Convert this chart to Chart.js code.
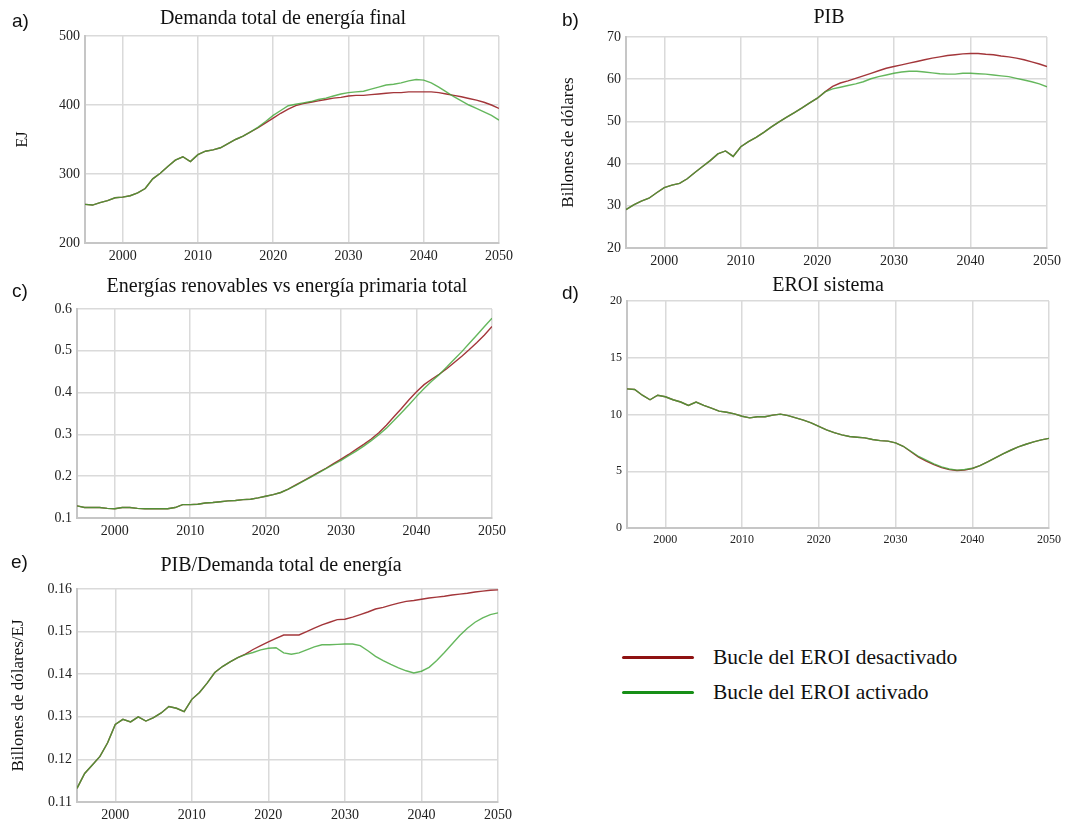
<!DOCTYPE html>
<html lang="es">
<head>
<meta charset="utf-8">
<title>Bucle del EROI</title>
<script src="https://cdn.jsdelivr.net/npm/chart.js@4.4.1/dist/chart.umd.min.js"></script>
<style>
  html, body { margin: 0; padding: 0; background: #fff; overflow: hidden; }
  body { width: 1073px; height: 823px; position: relative; }
  canvas { position: absolute; }
  .letra { position: absolute; font: 19px 'Liberation Sans', 'Noto Sans', sans-serif; color: #111; line-height: 19px; }
  .ley-linea { position: absolute; width: 72px; height: 3px; border-radius: 2px; }
  .ley-texto { position: absolute; font: 21.5px 'Liberation Serif', serif; color: #111; line-height: 24px; white-space: nowrap; }
</style>
</head>
<body>
<script>
const years = [
  1995, 1996, 1997, 1998, 1999, 2000, 2001, 2002, 2003, 2004,
  2005, 2006, 2007, 2008, 2009, 2010, 2011, 2012, 2013, 2014,
  2015, 2016, 2017, 2018, 2019, 2020, 2021, 2022, 2023, 2024,
  2025, 2026, 2027, 2028, 2029, 2030, 2031, 2032, 2033, 2034,
  2035, 2036, 2037, 2038, 2039, 2040, 2041, 2042, 2043, 2044,
  2045, 2046, 2047, 2048, 2049, 2050
];
const xTicks = [2000, 2010, 2020, 2030, 2040, 2050];

// a) Demanda total de energía final (EJ)
const demandaDesactivado = [
  256, 255, 258.5, 261.5, 265.5, 266.5, 268.5, 272.5, 279, 293,
  301, 311, 320, 325, 318, 328, 333, 335, 338, 344,
  350, 355, 361, 367, 374, 381, 388, 394, 399, 402,
  404, 406, 408, 410, 411, 413, 414, 414, 415, 416,
  417, 418, 418, 419, 419, 419, 419, 418, 416, 414,
  412, 409.5, 407, 404, 400, 395
];
const demandaActivado = [
  256, 255, 258.5, 261.5, 265.5, 266.5, 268.5, 272.5, 279, 293,
  301, 311, 320, 325, 318, 328, 333, 335, 338, 344,
  350, 355, 361, 368, 376, 385, 392, 399, 401, 403,
  405, 408, 410, 413, 416, 418, 419, 420, 423, 426,
  429, 430, 432, 435, 437, 436, 432, 426, 419, 412,
  406, 400, 395, 390, 385, 378
];
const demandaTicks = [200, 300, 400, 500];

// b) PIB (billones de dólares)
const pibDesactivado = [
  29.1, 30.2, 31.1, 31.8, 33.1, 34.3, 34.9, 35.3, 36.4, 37.9,
  39.3, 40.7, 42.3, 43.0, 41.7, 44.0, 45.2, 46.2, 47.4, 48.7,
  49.9, 51.0, 52.1, 53.2, 54.4, 55.5, 57.0, 58.3, 59.1, 59.6,
  60.2, 60.8, 61.4, 62.0, 62.6, 63.0, 63.4, 63.8, 64.2, 64.6,
  65.0, 65.3, 65.6, 65.8, 66.0, 66.1, 66.1, 65.9, 65.8, 65.5,
  65.3, 65.0, 64.6, 64.1, 63.6, 63.0
];
const pibActivado = [
  29.1, 30.2, 31.1, 31.8, 33.1, 34.3, 34.9, 35.3, 36.4, 37.9,
  39.3, 40.7, 42.3, 43.0, 41.7, 44.0, 45.2, 46.2, 47.4, 48.7,
  49.9, 51.0, 52.1, 53.2, 54.4, 55.5, 57.0, 57.7, 58.1, 58.5,
  58.9, 59.4, 60.1, 60.6, 61.0, 61.4, 61.7, 61.9, 61.9, 61.7,
  61.5, 61.3, 61.2, 61.2, 61.4, 61.4, 61.3, 61.2, 61.0, 60.8,
  60.6, 60.2, 59.8, 59.4, 58.9, 58.2
];
const pibTicks = [20, 30, 40, 50, 60, 70];

// c) Energías renovables vs energía primaria total
const renovDesactivado = [
  0.129, 0.125, 0.125, 0.125, 0.123, 0.122, 0.125, 0.125, 0.123, 0.122,
  0.122, 0.122, 0.122, 0.125, 0.132, 0.132, 0.133, 0.136, 0.137, 0.139,
  0.141, 0.142, 0.144, 0.145, 0.148, 0.152, 0.156, 0.161, 0.169, 0.179,
  0.189, 0.199, 0.209, 0.219, 0.230, 0.241, 0.252, 0.264, 0.276, 0.289,
  0.304, 0.322, 0.342, 0.362, 0.383, 0.402, 0.419, 0.432, 0.444, 0.457,
  0.472, 0.487, 0.503, 0.520, 0.538, 0.558
];
const renovActivado = [
  0.129, 0.125, 0.125, 0.125, 0.123, 0.122, 0.125, 0.125, 0.123, 0.122,
  0.122, 0.122, 0.122, 0.125, 0.132, 0.132, 0.133, 0.136, 0.137, 0.139,
  0.141, 0.142, 0.144, 0.145, 0.148, 0.152, 0.156, 0.161, 0.169, 0.178,
  0.188, 0.198, 0.208, 0.218, 0.228, 0.238, 0.249, 0.260, 0.272, 0.285,
  0.299, 0.315, 0.333, 0.352, 0.371, 0.391, 0.410, 0.427, 0.443, 0.461,
  0.480, 0.498, 0.518, 0.538, 0.558, 0.578
];
const renovTicks = [0.1, 0.2, 0.3, 0.4, 0.5, 0.6];

// d) EROI sistema
const eroiDesactivado = [
  12.26, 12.2, 11.7, 11.3, 11.7, 11.56, 11.3, 11.1, 10.8, 11.1,
  10.8, 10.56, 10.3, 10.2, 10.06, 9.85, 9.7, 9.8, 9.8, 9.95,
  10.03, 9.9, 9.7, 9.5, 9.26, 8.95, 8.65, 8.4, 8.2, 8.06,
  8.0, 7.94, 7.8, 7.7, 7.65, 7.5, 7.2, 6.72, 6.25, 5.9,
  5.58, 5.32, 5.14, 5.06, 5.1, 5.24, 5.5, 5.82, 6.18, 6.53,
  6.85, 7.15, 7.38, 7.59, 7.76, 7.9
];
const eroiActivado = [
  12.26, 12.2, 11.7, 11.3, 11.7, 11.56, 11.3, 11.1, 10.8, 11.1,
  10.8, 10.56, 10.3, 10.2, 10.06, 9.85, 9.7, 9.8, 9.8, 9.95,
  10.03, 9.9, 9.7, 9.5, 9.26, 8.95, 8.65, 8.4, 8.2, 8.06,
  8.0, 7.94, 7.8, 7.7, 7.65, 7.5, 7.2, 6.76, 6.3, 5.97,
  5.65, 5.38, 5.2, 5.1, 5.15, 5.26, 5.5, 5.82, 6.18, 6.53,
  6.85, 7.15, 7.38, 7.59, 7.76, 7.9
];
const eroiTicks = [0, 5, 10, 15, 20];

// e) PIB / Demanda total de energía
const intensidadDesactivado = [
  0.1132, 0.1167, 0.1187, 0.1207, 0.1239, 0.1282, 0.1294, 0.1288, 0.1300, 0.1290,
  0.1298, 0.1309, 0.1324, 0.1320, 0.1312, 0.1341, 0.1357, 0.1379, 0.1404, 0.1418,
  0.1429, 0.1439, 0.1447, 0.1458, 0.1467, 0.1476, 0.1484, 0.1492, 0.1492, 0.1492,
  0.1500, 0.1508, 0.1516, 0.1522, 0.1528, 0.1529, 0.1534, 0.1540, 0.1546, 0.1553,
  0.1557, 0.1562, 0.1567, 0.1571, 0.1573, 0.1576, 0.1579, 0.1581, 0.1583, 0.1586,
  0.1588, 0.1590, 0.1593, 0.1595, 0.1597, 0.1598
];
const intensidadActivado = [
  0.1132, 0.1167, 0.1187, 0.1207, 0.1239, 0.1282, 0.1294, 0.1288, 0.1300, 0.1290,
  0.1298, 0.1309, 0.1324, 0.1320, 0.1312, 0.1341, 0.1357, 0.1379, 0.1404, 0.1418,
  0.1429, 0.1439, 0.1446, 0.1451, 0.1457, 0.1461, 0.1462, 0.1450, 0.1447, 0.1450,
  0.1457, 0.1464, 0.1469, 0.1469, 0.1470, 0.1471, 0.1471, 0.1467, 0.1455, 0.1442,
  0.1432, 0.1423, 0.1415, 0.1408, 0.1403, 0.1407, 0.1416, 0.1432, 0.1451, 0.1471,
  0.1491, 0.1508, 0.1522, 0.1532, 0.1540, 0.1544
];
const intensidadTicks = [0.11, 0.12, 0.13, 0.14, 0.15, 0.16];

const serieNames = ['Bucle del EROI desactivado', 'Bucle del EROI activado'];
const lineColors = ['#a3363a', 'rgba(62, 165, 52, 0.8)'];
const legendColors = ['#8e1212', '#178f17'];

const SERIF = "'Liberation Serif', 'Times New Roman', serif";
const GRID = '#dadada';
const FRAME = '#c6c6c6';

const panels = [
  { letter: 'a)', letterPos: [12, 11], title: 'Demanda total de energía final', yTitle: 'EJ', yTitleSize: 16,
    off: demandaDesactivado, on: demandaActivado, yTicks: demandaTicks,
    box: [11, 4, 544, 263], yWidth: 74, spacer: 56, padBottom: 5.2, tickSize: 14 },
  { letter: 'b)', letterPos: [562, 10], title: 'PIB', yTitle: 'Billones de dólares', yTitleSize: 17,
    off: pibDesactivado, on: pibActivado, yTicks: pibTicks,
    box: [556, 3, 546, 269], yWidth: 70, spacer: 55, padBottom: 7.2, tickSize: 14 },
  { letter: 'c)', letterPos: [12, 281], title: 'Energías renovables vs energía primaria total', yTitle: '', yTitleSize: 16,
    off: renovDesactivado, on: renovActivado, yTicks: renovTicks,
    box: [40, 272, 494, 270], yWidth: 37, spacer: 42, padBottom: 10.2, tickSize: 14 },
  { letter: 'd)', letterPos: [562, 283], title: 'EROI sistema', yTitle: '', yTitleSize: 16,
    off: eroiDesactivado, on: eroiActivado, yTicks: eroiTicks,
    box: [589, 271, 478, 281], yWidth: 38, spacer: 18, padBottom: 3.2, tickSize: 12 },
  { letter: 'e)', letterPos: [11, 552], title: 'PIB/Demanda total de energía', yTitle: 'Billones de dólares/EJ', yTitleSize: 17,
    off: intensidadDesactivado, on: intensidadActivado, yTicks: intensidadTicks,
    box: [6, 551, 550, 275], yWidth: 71, spacer: 58, padBottom: 11.2, tickSize: 14 },
];

function toPoints(values) {
  return years.map((year, i) => ({ x: year, y: values[i] }));
}

function makePanel(p) {
  const canvas = document.createElement('canvas');
  const [left, top, width, height] = p.box;
  canvas.width = width;
  canvas.height = height;
  canvas.style.left = left + 'px';
  canvas.style.top = top + 'px';
  canvas.style.width = width + 'px';
  canvas.style.height = height + 'px';
  document.body.appendChild(canvas);

  const letter = document.createElement('div');
  letter.className = 'letra';
  letter.textContent = p.letter;
  letter.style.left = p.letterPos[0] + 'px';
  letter.style.top = p.letterPos[1] + 'px';
  document.body.appendChild(letter);

  const tickFont = { family: SERIF, size: p.tickSize };

  new Chart(canvas.getContext('2d'), {
    type: 'line',
    data: {
      datasets: [
        {
          label: serieNames[0],
          data: toPoints(p.off),
          borderColor: lineColors[0],
          borderWidth: 1.4,
          pointRadius: 0,
          tension: 0,
          order: 1,
        },
        {
          label: serieNames[1],
          data: toPoints(p.on),
          borderColor: lineColors[1],
          borderWidth: 1.4,
          pointRadius: 0,
          tension: 0,
          order: 0,
        },
      ],
    },
    options: {
      responsive: false,
      devicePixelRatio: 1,
      animation: false,
      events: [],
      layout: { padding: 0 },
      plugins: {
        legend: { display: false },
        tooltip: { enabled: false },
        title: {
          display: true,
          text: p.title,
          color: '#111',
          font: { family: SERIF, size: 20, weight: 'normal', lineHeight: 1.2 },
          padding: { top: 2.8, bottom: p.padBottom },
        },
      },
      scales: {
        x: {
          type: 'linear',
          min: years[0],
          max: years[years.length - 1],
          afterBuildTicks: (scale) => {
            scale.ticks = xTicks.map((v) => ({ value: v }));
          },
          afterFit: (scale) => {
            scale.height = 24;
          },
          grid: { color: GRID, lineWidth: 1.5, drawTicks: false },
          border: { color: FRAME, width: 2 },
          ticks: {
            font: tickFont,
            color: '#222',
            padding: 5,
            maxRotation: 0,
            callback: (v) => String(v),
          },
        },
        y: {
          type: 'linear',
          min: p.yTicks[0],
          max: p.yTicks[p.yTicks.length - 1],
          afterBuildTicks: (scale) => {
            scale.ticks = p.yTicks.map((v) => ({ value: v }));
          },
          afterFit: (scale) => {
            scale.width = p.yWidth;
          },
          grid: { color: GRID, lineWidth: 1.5, drawTicks: false },
          border: { color: FRAME, width: 2 },
          ticks: {
            font: tickFont,
            color: '#222',
            padding: 5,
            callback: (v) => String(v),
          },
          title: {
            display: p.yTitle !== '',
            text: p.yTitle,
            color: '#111',
            font: { family: SERIF, size: p.yTitleSize, lineHeight: 1.2 },
            padding: { top: 2, bottom: 0 },
          },
        },
        // empty right-hand axis, only reserves room so the title centres like the original panel
        margen: {
          type: 'linear',
          position: 'right',
          grid: { display: false, drawTicks: false },
          border: { display: false },
          ticks: { display: false },
          afterFit: (scale) => {
            scale.width = p.spacer;
          },
        },
      },
    },
  });
}

panels.forEach(makePanel);

// shared legend
const legendRows = [657, 692];
serieNames.forEach((name, i) => {
  const line = document.createElement('div');
  line.className = 'ley-linea';
  line.style.left = '622px';
  line.style.top = (legendRows[i] - 1.5) + 'px';
  line.style.background = legendColors[i];
  document.body.appendChild(line);

  const text = document.createElement('div');
  text.className = 'ley-texto';
  text.textContent = name;
  text.style.left = '713px';
  text.style.top = (legendRows[i] - 12) + 'px';
  document.body.appendChild(text);
});
</script>
</body>
</html>
